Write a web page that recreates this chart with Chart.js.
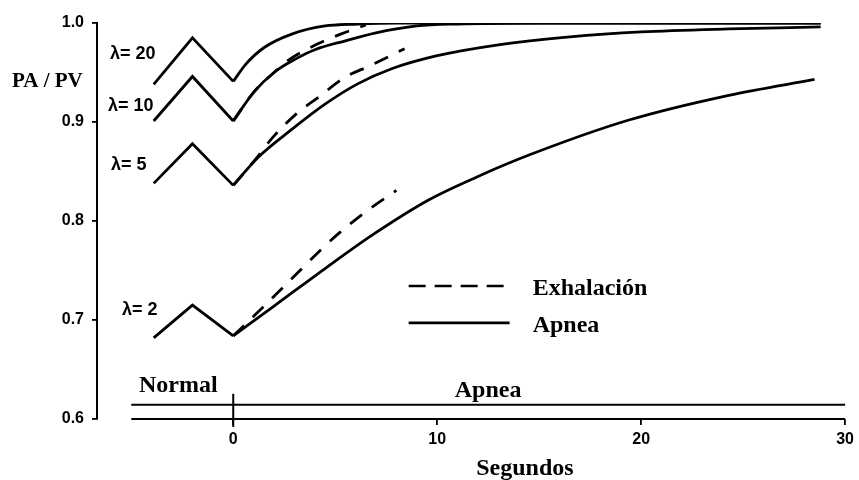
<!DOCTYPE html>
<html>
<head>
<meta charset="utf-8">
<script src="https://cdn.jsdelivr.net/npm/chart.js@4"></script>
<style>
  body { margin: 0; background: #fff; }
  canvas { display: block; }
</style>
</head>
<body>
<canvas id="ratioChart" width="859" height="480"></canvas>
<script>
// ventilación normal (zig-zag) antes del t = 0
const normalT = [-3.9, -2, 0];
const normal20 = [0.938, 0.985, 0.941];
const normal10 = [0.901, 0.946, 0.901];
const normal5 = [0.838, 0.878, 0.836];
const normal2 = [0.682, 0.715, 0.684];

// Apnea (línea continua)
const apneaT20 = [0, 0.6, 1.5, 2.9, 4.5, 6.1, 8, 12, 20, 28.8];
const apnea20 = [0.941, 0.958, 0.975, 0.989, 0.997, 0.999, 1.0, 1.0, 1.0, 1.0];
const apneaT10 = [0, 1, 2, 3, 4, 5.5, 7, 9, 11, 15, 20, 28.8];
const apnea10 = [0.901, 0.930, 0.950, 0.963, 0.973, 0.982, 0.990, 0.997, 0.999, 1.0, 1.0, 1.0];
const apneaT5 = [0, 1.2, 2.9, 4.5, 6.1, 7.8, 10, 13, 16.5, 20, 24.3, 28.8];
const apnea5 = [0.836, 0.864, 0.893, 0.918, 0.9385, 0.954, 0.967, 0.978, 0.986, 0.991, 0.994, 0.996];
const apneaT2 = [0, 2, 4.5, 6.9, 9.6, 12, 14.5, 19.4, 24.3, 28.5];
const apnea2 = [0.684, 0.714, 0.752, 0.787, 0.8215, 0.845, 0.8666, 0.902, 0.927, 0.943];

// Exhalación (línea discontinua)
const exhT10 = [0, 1, 2, 2.8, 4.15, 5.3, 6.5];
const exh10 = [0.901, 0.930, 0.950, 0.9637, 0.979, 0.989, 0.998];
const exhT5 = [0, 1.06, 1.96, 3.08, 4.18, 5.47, 6.73, 8.4];
const exh5 = [0.836, 0.8615, 0.885, 0.908, 0.925, 0.945, 0.957, 0.974];
const exhT2 = [0, 1.06, 2.2, 3.27, 4.25, 5.2, 6.45, 8.0];
const exh2 = [0.684, 0.705, 0.728, 0.750, 0.770, 0.788, 0.8086, 0.831];

// barra de fases (Normal / Apnea) bajo las curvas
const bandT = [-5, 30];
const bandLow = [0.6, 0.6];
const bandHigh = [0.6144, 0.6144];
const markT = [0, 0];
const markY = [0.592, 0.6255];

const xTicks = [0, 10, 20, 30];
const yTicks = [0.6, 0.7, 0.8, 0.9, 1.0];

const lambdaLabels = ['λ= 20', 'λ= 10', 'λ= 5', 'λ= 2'];
const lambdaPos = [[-6.04, 0.964], [-6.14, 0.911], [-5.99, 0.8514], [-5.45, 0.7053]];

const pts = (xs, ys) => xs.map((x, i) => ({ x: x, y: ys[i] }));

function curve(xs, ys, dashed, smooth) {
    return {
        data: pts(xs, ys),
        borderColor: '#000',
        borderWidth: 2.8,
        borderDash: dashed ? [15, 12] : [],
        pointRadius: 0,
        cubicInterpolationMode: smooth ? 'monotone' : 'default',
        tension: 0,
        fill: false
    };
}

function thin(xs, ys, w) {
    return {
        data: pts(xs, ys),
        borderColor: '#000',
        borderWidth: w,
        pointRadius: 0,
        tension: 0,
        clip: false,
        fill: false
    };
}

const serif = '"Liberation Serif", "Times New Roman", serif';
const sans = '"Liberation Sans", Arial, sans-serif';

const textPlugin = {
    id: 'textos',
    afterDatasetsDraw(chart) {
        const ctx = chart.ctx;
        const sx = chart.scales.x, sy = chart.scales.y;
        const area = chart.chartArea;
        ctx.save();
        ctx.fillStyle = '#000';
        ctx.strokeStyle = '#000';
        ctx.textAlign = 'left';
        ctx.textBaseline = 'alphabetic';

        // etiquetas lambda
        ctx.font = 'bold 18px ' + sans;
        lambdaLabels.forEach((txt, i) => {
            ctx.fillText(txt, sx.getPixelForValue(lambdaPos[i][0]), sy.getPixelForValue(lambdaPos[i][1]));
        });

        // título del eje Y, horizontal
        ctx.font = 'bold 21px ' + serif;
        ctx.fillText('PA / PV', 12, 87);

        // fases
        ctx.font = 'bold 24px ' + serif;
        ctx.fillText('Normal', sx.getPixelForValue(-4.62), sy.getPixelForValue(0.6275));
        ctx.fillText('Apnea', sx.getPixelForValue(10.86), sy.getPixelForValue(0.6225));

        // leyenda
        const lx0 = sx.getPixelForValue(8.6), lx1 = sx.getPixelForValue(13.55);
        const tx = sx.getPixelForValue(14.68);
        ctx.lineWidth = 2.6;
        ctx.setLineDash([17, 9]);
        ctx.beginPath();
        ctx.moveTo(lx0, sy.getPixelForValue(0.7344));
        ctx.lineTo(lx1, sy.getPixelForValue(0.7344));
        ctx.stroke();
        ctx.setLineDash([]);
        ctx.beginPath();
        ctx.moveTo(lx0, sy.getPixelForValue(0.6971));
        ctx.lineTo(lx1, sy.getPixelForValue(0.6971));
        ctx.stroke();
        ctx.fillText('Exhalación', tx, sy.getPixelForValue(0.7254));
        ctx.fillText('Apnea', tx, sy.getPixelForValue(0.6880));

        // título del eje X
        ctx.textAlign = 'center';
        ctx.fillText('Segundos', sx.getPixelForValue(14.3), area.bottom + 56);
        ctx.restore();
    }
};

new Chart(document.getElementById('ratioChart'), {
    type: 'line',
    data: {
        datasets: [
            curve(normalT, normal20, false, false),
            curve(normalT, normal10, false, false),
            curve(normalT, normal5, false, false),
            curve(normalT, normal2, false, false),
            curve(apneaT20, apnea20, false, true),
            curve(apneaT10, apnea10, false, true),
            curve(apneaT5, apnea5, false, true),
            curve(apneaT2, apnea2, false, true),
            curve(exhT10, exh10, true, true),
            curve(exhT5, exh5, true, true),
            curve(exhT2, exh2, true, true),
            thin(bandT, bandLow, 1.8),
            thin(bandT, bandHigh, 1.8),
            thin(markT, markY, 2)
        ]
    },
    options: {
        responsive: false,
        animation: false,
        layout: { padding: { top: 23, right: 13, left: 0, bottom: 0 } },
        scales: {
            x: {
                type: 'linear',
                min: -6.68,
                max: 30,
                afterBuildTicks: axis => { axis.ticks = xTicks.map(v => ({ value: v })); },
                afterFit: scale => { scale.height = 61; },
                border: { display: false },
                grid: { drawOnChartArea: false, drawTicks: true, tickLength: 6, color: '#000', lineWidth: 1.8 },
                ticks: { color: '#000', padding: 5, maxRotation: 0, font: { family: sans, size: 16, weight: 'bold' } }
            },
            y: {
                type: 'linear',
                min: 0.6,
                max: 1.0,
                afterBuildTicks: axis => { axis.ticks = yTicks.map(v => ({ value: v })); },
                afterFit: scale => { scale.width = 97; },
                border: { display: true, color: '#000', width: 2 },
                grid: { drawOnChartArea: false, drawTicks: true, tickLength: 5, color: '#000', lineWidth: 1.8 },
                ticks: {
                    color: '#000',
                    padding: 8,
                    font: { family: sans, size: 16, weight: 'bold' },
                    callback: v => v.toFixed(1)
                }
            }
        },
        plugins: {
            legend: { display: false },
            tooltip: { enabled: false }
        }
    },
    plugins: [textPlugin]
});
</script>
</body>
</html>
